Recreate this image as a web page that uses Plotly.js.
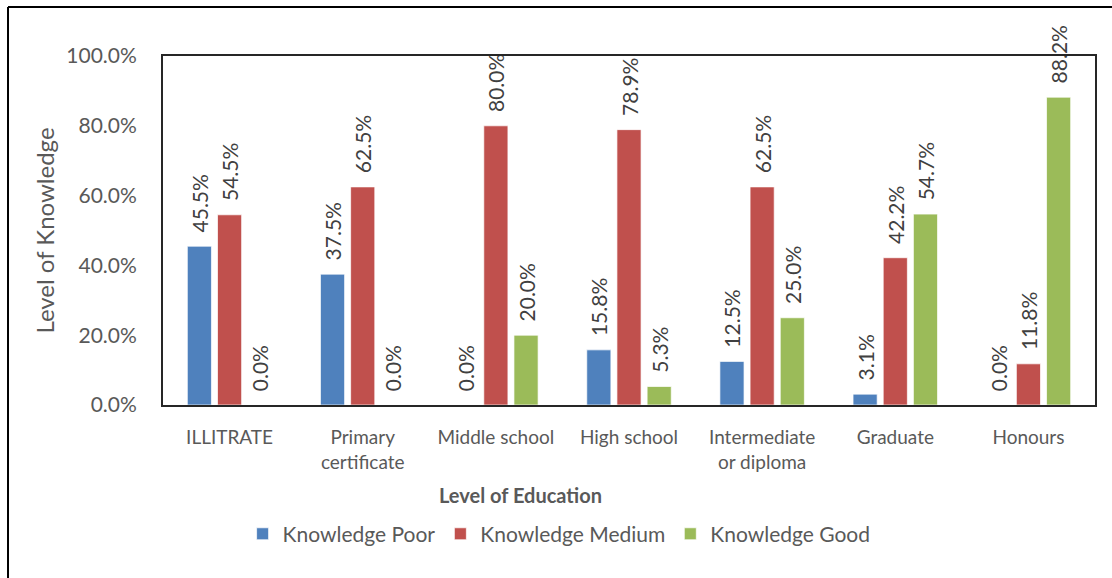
<!DOCTYPE html>
<html>
<head>
<meta charset="utf-8">
<script src="https://cdn.plot.ly/plotly-3.0.1.min.js"></script>
<style>
html,body{margin:0;padding:0;background:#fff;}
#chart{width:1112px;height:578px;}
</style>
</head>
<body>
<div id="chart"></div>
<script>
const categories = ["ILLITRATE", "Primary<br>certificate", "Middle school", "High school", "Intermediate<br>or diploma", "Graduate", "Honours"];
const seriesNames = ["Knowledge Poor", "Knowledge Medium", "Knowledge Good"];
const poor   = [0.455, 0.375, 0.000, 0.158, 0.125, 0.031, 0.000];
const medium = [0.545, 0.625, 0.800, 0.789, 0.625, 0.422, 0.118];
const good   = [0.000, 0.000, 0.200, 0.053, 0.250, 0.547, 0.882];
const colors = ["#4F81BD", "#C0504D", "#9BBB59"];

const FONT = "Lato, 'Open Sans', sans-serif";
const GRAY = "#595959";
const PAD = "\u00a0\u00a0";

const data = [poor, medium, good].map((vals, i) => ({
  type: "bar",
  name: seriesNames[i],
  x: categories,
  y: vals,
  marker: {color: colors[i], line: {color: "rgba(255,255,255,0.7)", width: 1}},
  text: vals.map(v => PAD + (v * 100).toFixed(1) + "%"),
  textposition: "outside",
  textangle: -90,
  constraintext: "none",
  cliponaxis: false,
  textfont: {family: FONT, size: 21, color: "#404040"},
  hoverinfo: "none"
}));

const layout = {
  width: 1112,
  height: 578,
  margin: {l: 163, r: 17, t: 56, b: 173},
  paper_bgcolor: "#fff",
  plot_bgcolor: "#fff",
  font: {family: FONT, color: GRAY},
  barmode: "group",
  bargap: 0.32,
  bargroupgap: 0.2,
  showlegend: true,
  legend: {
    orientation: "h",
    x: 0.425, xanchor: "center",
    y: -0.37, yanchor: "middle",
    font: {family: FONT, size: 21, color: GRAY},
    traceorder: "normal",
    itemwidth: 30
  },
  xaxis: {
    type: "category",
    showline: true, linecolor: "#262626", linewidth: 2, mirror: true,
    ticks: "",
    ticklabelstandoff: 14,
    tickfont: {family: FONT, size: 19, color: GRAY}
  },
  yaxis: {
    range: [0, 1.0],
    dtick: 0.2,
    tickformat: ".1%",
    showgrid: false,
    zeroline: false,
    showline: true, linecolor: "#262626", linewidth: 2, mirror: true,
    ticks: "",
    ticklabelstandoff: 20,
    tickfont: {family: FONT, size: 21, color: GRAY},
    title: {text: "Level of Knowledge", font: {family: FONT, size: 24, color: GRAY}, standoff: 5}
  },
  annotations: [
    {text: "<b>Level of Education</b>", xref: "paper", yref: "paper",
     x: (520 - 163) / 932, y: (405 - 495) / 349, xanchor: "center", yanchor: "middle",
     showarrow: false, font: {family: FONT, size: 20, color: GRAY}}
  ],
  shapes: [
    {type: "line", xref: "paper", yref: "paper", x0: -0.1663, x1: 1.05, y0: 1.1404, y1: 1.1404, line: {color: "#000", width: 2}},
    {type: "line", xref: "paper", yref: "paper", x0: -0.1663, x1: -0.1663, y0: 1.1404, y1: -0.6, line: {color: "#000", width: 2}}
  ]
};

Plotly.newPlot("chart", data, layout, {displayModeBar: false, staticPlot: true});
</script>
</body>
</html>
